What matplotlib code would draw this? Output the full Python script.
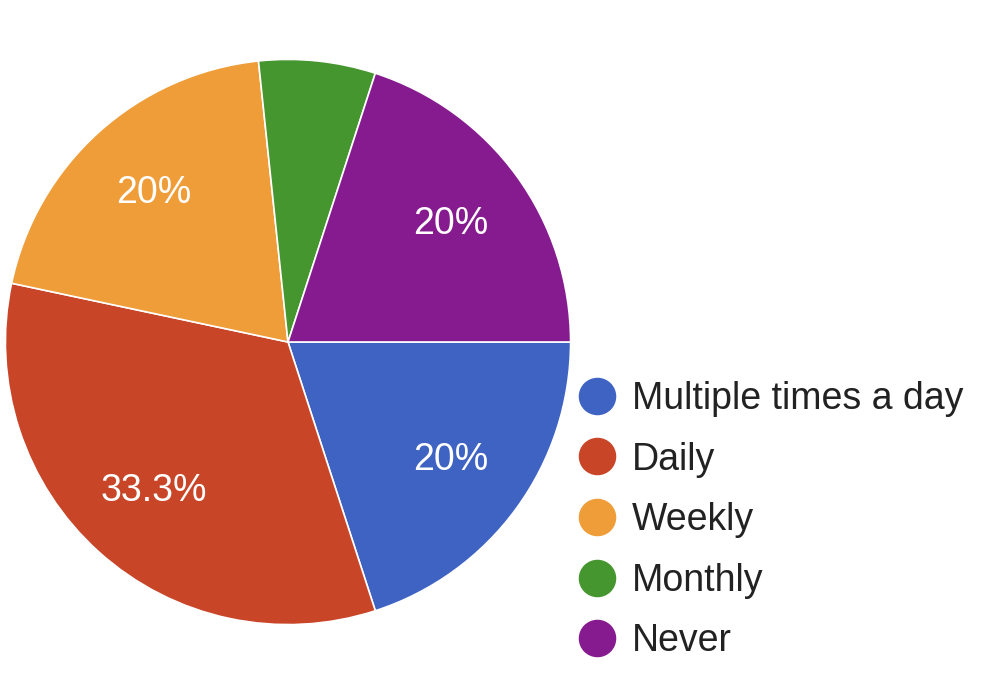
import matplotlib.pyplot as plt
from matplotlib.lines import Line2D

plt.rcParams['font.family'] = ['Liberation Sans', 'DejaVu Sans']

labels = ['Multiple times a day', 'Daily', 'Weekly', 'Monthly', 'Never']
counts = [3, 5, 3, 1, 3]
colors = ['#3F63C3', '#C84528', '#EF9D38', '#46962F', '#861B8F']


def pct_label(p):
    # small slices get no label, like the original chart
    if p < 10:
        return ''
    return '%g%%' % round(p, 1)


W, H = 982, 678
fig = plt.figure(figsize=(W / 100, H / 100), dpi=100)

cx, cy, r = 288, 342, 284
ax = fig.add_axes([(cx - r) / W, (H - cy - r) / H, 2 * r / W, 2 * r / H])
wedges, texts, autotexts = ax.pie(
    counts, colors=colors, startangle=0, counterclock=False,
    autopct=pct_label, pctdistance=0.71,
    wedgeprops=dict(edgecolor='white', linewidth=1.2),
    textprops=dict(color='white', fontsize=27))
ax.set_xlim(-1.005, 1.005)
ax.set_ylim(-1.005, 1.005)
ax.set_aspect('equal')

handles = [Line2D([], [], marker='o', linestyle='', markersize=26,
                  markerfacecolor=c, markeredgecolor=c) for c in colors]
fig.legend(handles, labels, loc='upper left',
           bbox_to_anchor=(578 / W, 1 - 381 / H),
           frameon=False, fontsize=27, borderpad=0, borderaxespad=0,
           handlelength=1.0, handletextpad=0.43, labelspacing=0.655,
           labelcolor='#222222')

fig.savefig('out.png', dpi=100)
